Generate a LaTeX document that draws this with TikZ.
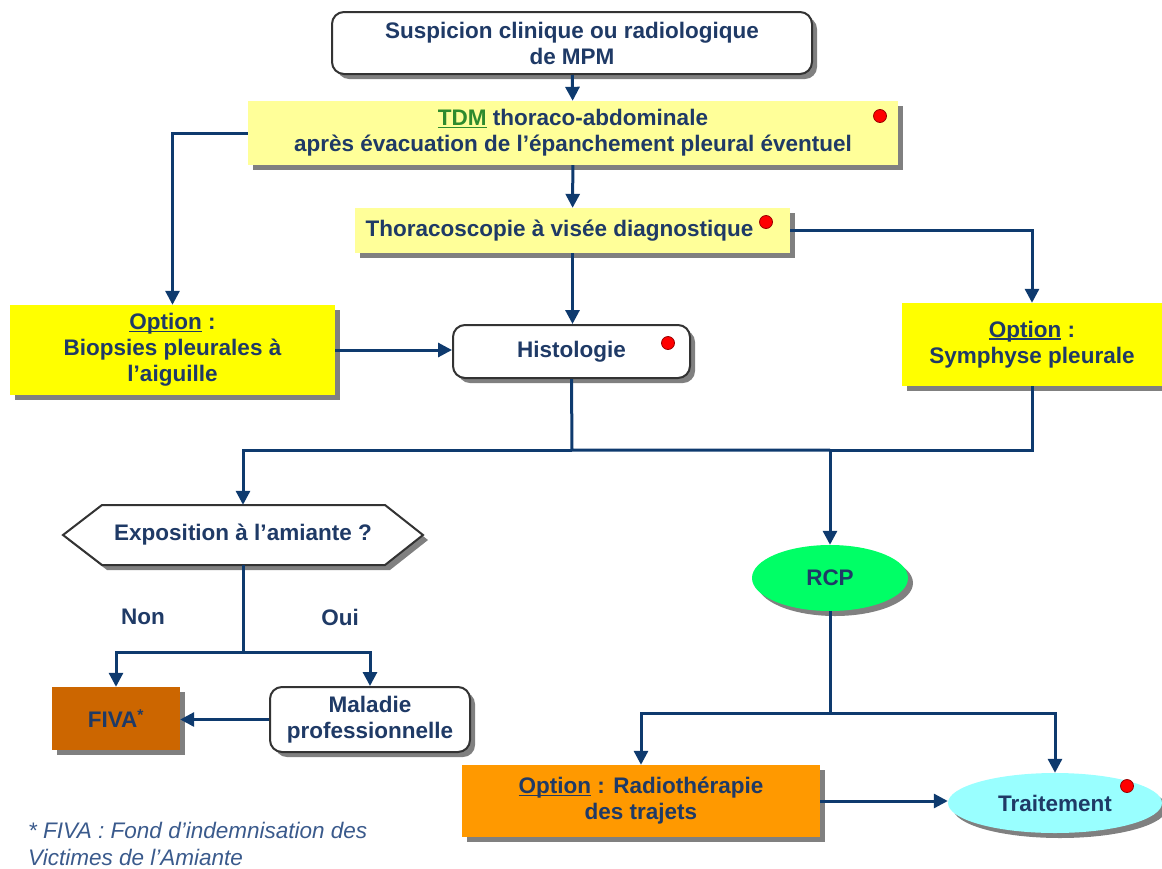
\documentclass[tikz,border=0pt]{standalone}
\usepackage{fontspec}
\setmainfont{Liberation Sans}
\usetikzlibrary{shapes.geometric,shadows,arrows.meta}
\definecolor{navy}{HTML}{1F3A66}
\definecolor{lineblue}{HTML}{0E3A6E}
\definecolor{paleyellow}{HTML}{FFFF99}
\definecolor{brightyellow}{HTML}{FFFF00}
\definecolor{fivabrown}{HTML}{CC6600}
\definecolor{radorange}{HTML}{FF9900}
\definecolor{rcpgreen}{HTML}{00FF66}
\definecolor{traitcyan}{HTML}{99FFFF}
\definecolor{tdmgreen}{HTML}{2E8B2E}
\definecolor{shadowgray}{HTML}{808080}
\definecolor{bordergray}{HTML}{333333}
\definecolor{notecolor}{HTML}{3A5A8C}
\newcommand{\myul}[1]{\setbox0\hbox{#1}\rlap{\rule[-2.5pt]{\wd0}{1.6pt}}\box0\relax}
\begin{document}
\begin{tikzpicture}[x=1pt,y=-1pt,
  every node/.style={font=\bfseries\fontsize{22.5}{26}\selectfont, text=navy, align=center, inner sep=0pt},
  sh/.style={drop shadow={shadow xshift=5pt, shadow yshift=-5pt, fill=shadowgray, opacity=1}},
  roundbox/.style={draw=bordergray, line width=2pt, fill=white, rounded corners=12pt, sh},
  flatbox/.style={sh},
  conn/.style={draw=lineblue, line width=3pt, -{Triangle[length=14pt,width=14pt]}},
  plain/.style={draw=lineblue, line width=3pt},
  reddot/.style={circle, fill=red, draw=red!60!black, line width=0.8pt, minimum size=13pt},
  note/.style={font=\itshape\fontsize{22.5}{27}\selectfont, text=notecolor, align=left}
]
\useasboundingbox (0,0) rectangle (1162,868);

% nodes
\node[roundbox, minimum width=480pt, minimum height=62pt] (top) at (572,43)
  {Suspicion clinique ou radiologique\\de MPM};
\node[flatbox, fill=paleyellow, minimum width=650pt, minimum height=64pt] (tdm) at (573,133)
  {\textcolor{tdmgreen}{\myul{TDM}} thoraco-abdominale\\après évacuation de l’épanchement pleural éventuel};
\node[flatbox, fill=paleyellow, minimum width=435pt, minimum height=45pt] (thor) at (572.5,230.5)
  {Thoracoscopie à visée diagnostique\hspace{26pt}};
\node[flatbox, fill=brightyellow, minimum width=325pt, minimum height=90pt] (biop) at (172.5,350)
  {\myul{Option} :\\Biopsies pleurales à\\l’aiguille};
\node[roundbox, minimum width=237pt, minimum height=53pt] (histo) at (571.5,351.5)
  {Histologie};
\node[flatbox, fill=brightyellow, minimum width=260pt, minimum height=83pt] (symph) at (1032,344.5)
  {\myul{Option} :\\Symphyse pleurale};

\path[draw=bordergray, line width=2pt, fill=white, sh]
  (63,535) -- (102,505) -- (385,505) -- (423,535) -- (385,565) -- (102,565) -- cycle;
\node[minimum width=283pt, minimum height=60pt] (expo) at (243,535) {Exposition à l’amiante ?};

\node (non) at (143,617) {Non};
\node (oui) at (340,617) {Oui};

\node[flatbox, fill=fivabrown, minimum width=128pt, minimum height=63pt] (fiva) at (116,718.5)
  {FIVA\textsuperscript{*}};
\node[roundbox, minimum width=200pt, minimum height=65pt] (mal) at (370,719.5)
  {Maladie\\professionnelle};

\node[ellipse, fill=rcpgreen, sh, minimum width=156pt, minimum height=66pt] (rcp) at (830,578) {RCP};

\node[flatbox, fill=radorange, minimum width=358pt, minimum height=72pt] (radio) at (641,801)
  {\myul{Option} : Radiothérapie\\des trajets};
\node[ellipse, fill=traitcyan, sh, minimum width=214pt, minimum height=60pt] (trait) at (1055,803)
  {Traitement};

\node[note, anchor=west] (fn) at (28,843.5)
  {* FIVA : Fond d’indemnisation des\\Victimes de l’Amiante};

% red dots
\node[reddot] (d1) at (880,116) {};
\node[reddot] (d2) at (766,222) {};
\node[reddot] (d3) at (668,343) {};
\node[reddot] (d4) at (1127,786) {};

% junctions
\coordinate (j1) at (572,450);
\coordinate (j2) at (830,450);
\coordinate (j3) at (243,652);
\coordinate (j4) at (830,713);

% connectors
\draw[conn] (top) -- (tdm);
\draw[conn] (tdm) -- (thor);
\draw[conn] (thor) -- (thor |- histo.north);
\draw[conn] (thor.east) -| (symph.north);
\draw[conn] (tdm.west) -| (biop.north);
\draw[conn] (biop.east) -- (biop.east -| histo.west);
\draw[plain] (histo.south) -- (j1) -- (j2);
\draw[conn] (j1) -| (expo.north);
\draw[conn] (symph.south) |- (j2) -- (rcp.north);
\draw[conn] (expo.south) -- (j3) -| (fiva.north);
\draw[conn] (j3) -| (mal.north);
\draw[conn] (mal.west) -- (mal.west -| fiva.east);
\draw[conn] (rcp.south) -- (j4) -| (radio.north);
\draw[conn] (j4) -| (trait.north);
\draw[conn] (radio.east) -- (radio.east -| trait.west);
\end{tikzpicture}
\end{document}
